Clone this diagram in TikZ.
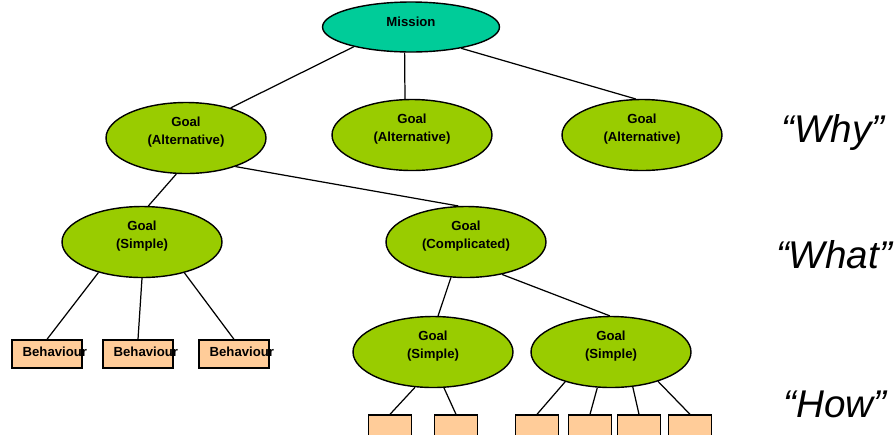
\documentclass[tikz,border=0pt]{standalone}
\usepackage{fontspec}
\setmainfont{Liberation Sans}
\usepackage{tikz}
\usetikzlibrary{shapes.geometric}
\definecolor{missioncol}{HTML}{00CC99}
\definecolor{goalcol}{HTML}{99CC00}
\definecolor{behcol}{HTML}{FFCC99}
\tikzset{
  mission/.style={ellipse, draw=black, fill=missioncol, line width=0.8pt, inner sep=0pt,
    text depth=6.5pt, minimum width=3.54cm, minimum height=1cm,
    font=\fontsize{7.5}{10}\selectfont\bfseries},
  goal/.style={ellipse, draw=black, fill=goalcol, line width=0.8pt, align=center, inner sep=0pt,
    text depth=8pt, minimum width=3.2cm, minimum height=1.42cm,
    font=\fontsize{7.5}{10}\selectfont\bfseries},
  behbox/.style={rectangle, draw=black, fill=behcol, line width=0.8pt,
    minimum width=1.4cm, minimum height=0.56cm, inner sep=0pt},
  leafbox/.style={rectangle, draw=black, fill=behcol, line width=0.8pt,
    minimum width=0.86cm, minimum height=0.56cm, inner sep=0pt},
  behtext/.style={anchor=west, inner sep=0pt, font=\fontsize{7.5}{10}\selectfont\bfseries},
  level/.style={font=\fontsize{22}{26}\selectfont\itshape},
  edge/.style={line width=0.7pt}
}
\begin{document}
\begin{tikzpicture}[x=0.02cm,y=-0.02cm]
\clip (0,0) rectangle (896,434);
% draws goals
\node[mission] (m) at (411,27) {Mission};
\node[goal] (g1) at (186,138) {Goal\\(Alternative)};
\node[goal] (g2) at (412,135) {Goal\\(Alternative)};
\node[goal] (g3) at (642,135) {Goal\\(Alternative)};
\node[goal] (s1) at (142,242) {Goal\\(Simple)};
\node[goal] (c) at (466,242) {Goal\\(Complicated)};
\node[goal] (s2) at (433,352) {Goal\\(Simple)};
\node[goal] (s3) at (611,352) {Goal\\(Simple)};
% draws behaviours
\node[behbox] (b1) at (47,354) {};
\node[behbox] (b2) at (138,354) {};
\node[behbox] (b3) at (234,354) {};
\node[behtext] (b1t) at ([xshift=0.22cm,yshift=0.05cm]b1.west) {Behaviour};
\node[behtext] (b2t) at ([xshift=0.22cm,yshift=0.05cm]b2.west) {Behaviour};
\node[behtext] (b3t) at ([xshift=0.22cm,yshift=0.05cm]b3.west) {Behaviour};
\node[leafbox] (l1) at (390,429) {};
\node[leafbox] (l2) at (456,429) {};
\node[leafbox] (l3) at (537,429) {};
\node[leafbox] (l4) at (590,429) {};
\node[leafbox] (l5) at (639,429) {};
\node[leafbox] (l6) at (690,429) {};
% labels levels
\node[level] (why) at (833,132) {“Why”};
\node[level] (what) at (834,255) {“What”};
\node[level] (how) at (835,404) {“How”};
% draws edges
\begin{scope}[edge]
\draw (m.199) to (g1.34);
\draw (m.256) to (g2.101);
\draw (m.337) to (g3.100);
\draw (g1.255) to (s1.80);
\draw (g1.330) to (c.102);
\draw (s1.215) to (b1.north);
\draw (s1.270) to (b2.north);
\draw (s1.324) to (b3.north);
\draw (c.247) to (s2.82);
\draw (c.318) to (s3.92);
\draw (s2.243) to (l1.north);
\draw (s2.287) to (l2.north);
\draw (s3.213) to (l3.north);
\draw (s3.249) to (l4.north);
\draw (s3.302) to (l5.north);
\draw (s3.328) to (l6.north);
\end{scope}
\end{tikzpicture}
\end{document}
